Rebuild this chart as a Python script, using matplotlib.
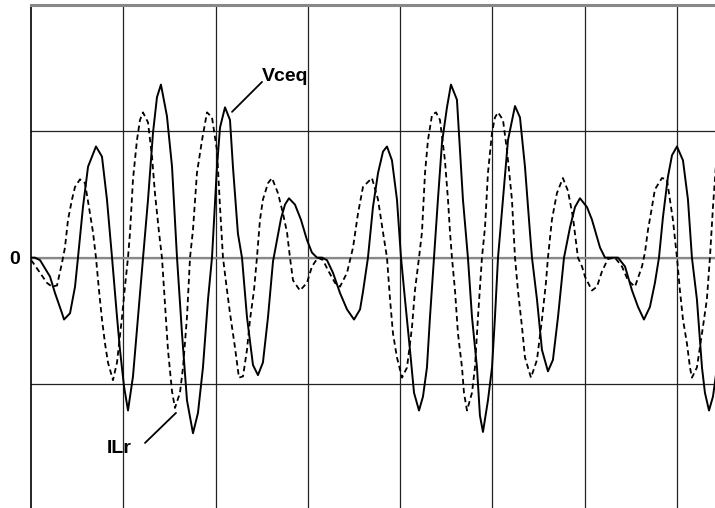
import numpy as np
import matplotlib.pyplot as plt

# time in grid divisions, amplitude in grid divisions
t_vce = [0.000, 0.043, 0.098, 0.206, 0.260, 0.336, 0.358, 0.423, 0.477, 0.509,
         0.563, 0.618, 0.704, 0.769, 0.823, 0.878, 0.932, 0.964, 1.008, 1.051,
         1.105, 1.159, 1.214, 1.268, 1.322, 1.365, 1.408, 1.473, 1.528, 1.582,
         1.636, 1.690, 1.755, 1.809, 1.863, 1.918, 1.961, 2.015, 2.048, 2.102,
         2.156, 2.188, 2.242, 2.286, 2.340, 2.405, 2.459, 2.513, 2.568, 2.622,
         2.665, 2.709, 2.752, 2.795, 2.860, 2.925, 2.990, 3.044, 3.099, 3.153,
         3.207, 3.272, 3.348, 3.424, 3.500, 3.565, 3.597, 3.651, 3.705, 3.760,
         3.814, 3.857, 3.911, 3.965, 4.009, 4.052, 4.106, 4.150, 4.204, 4.247,
         4.290, 4.323, 4.366, 4.409, 4.453, 4.507, 4.550, 4.615, 4.648, 4.680,
         4.734, 4.778, 4.832, 4.864, 4.897, 4.951, 4.995, 5.027, 5.060, 5.114,
         5.168, 5.244, 5.298, 5.352, 5.406, 5.428, 5.482, 5.536, 5.601, 5.655,
         5.710, 5.775, 5.840, 5.894, 5.948, 6.024, 6.078, 6.165, 6.219, 6.295,
         6.360, 6.436, 6.512, 6.577, 6.641, 6.706, 6.760, 6.804, 6.847, 6.901,
         6.945, 6.999, 7.064, 7.118, 7.161, 7.215, 7.270, 7.302, 7.346, 7.389,
         7.421]
vceq = [0.00, 0.00, -0.02, -0.15, -0.28, -0.44, -0.49, -0.44, -0.23, 0.00,
        0.40, 0.72, 0.88, 0.80, 0.46, 0.00, -0.47, -0.73, -1.02, -1.21,
        -0.94, -0.47, 0.00, 0.46, 0.99, 1.27, 1.37, 1.12, 0.72, 0.00,
        -0.60, -1.13, -1.39, -1.23, -0.87, -0.33, 0.00, 0.72, 1.03, 1.19,
        1.09, 0.72, 0.19, 0.00, -0.47, -0.85, -0.93, -0.83, -0.47, -0.03,
        0.14, 0.31, 0.42, 0.47, 0.42, 0.30, 0.14, 0.04, 0.00, 0.00,
        -0.02, -0.12, -0.28, -0.41, -0.49, -0.41, -0.27, 0.00, 0.40, 0.67,
        0.84, 0.88, 0.77, 0.46, 0.00, -0.33, -0.73, -1.07, -1.21, -1.10,
        -0.87, -0.47, 0.00, 0.46, 0.91, 1.19, 1.37, 1.25, 0.85, 0.46,
        0.00, -0.47, -0.87, -1.25, -1.38, -1.13, -0.87, -0.47, 0.00, 0.46,
        0.93, 1.20, 1.11, 0.72, 0.20, 0.00, -0.33, -0.73, -0.90, -0.81,
        -0.47, 0.00, 0.24, 0.40, 0.47, 0.40, 0.30, 0.08, 0.00, 0.00,
        0.00, -0.07, -0.26, -0.39, -0.49, -0.39, -0.20, 0.00, 0.32, 0.64,
        0.81, 0.88, 0.77, 0.46, 0.00, -0.33, -0.87, -1.07, -1.21, -1.10,
        -0.93]

t_ilr = [0.000, 0.022, 0.098, 0.173, 0.228, 0.282, 0.336, 0.368, 0.401, 0.444,
         0.477, 0.531, 0.585, 0.628, 0.672, 0.704, 0.737, 0.769, 0.802, 0.834,
         0.888, 0.932, 0.986, 1.018, 1.051, 1.073, 1.105, 1.148, 1.181, 1.213,
         1.268, 1.311, 1.343, 1.387, 1.419, 1.452, 1.484, 1.528, 1.560, 1.614,
         1.647, 1.690, 1.723, 1.755, 1.798, 1.853, 1.907, 1.961, 2.015, 2.048,
         2.080, 2.124, 2.156, 2.210, 2.253, 2.297, 2.340, 2.373, 2.416, 2.448,
         2.481, 2.513, 2.568, 2.611, 2.676, 2.730, 2.774, 2.806, 2.839, 2.914,
         2.990, 3.044, 3.109, 3.164, 3.218, 3.294, 3.348, 3.424, 3.489, 3.543,
         3.597, 3.694, 3.760, 3.814, 3.857, 3.890, 3.922, 3.965, 4.020, 4.074,
         4.128, 4.160, 4.204, 4.236, 4.269, 4.301, 4.345, 4.388, 4.431, 4.485,
         4.518, 4.540, 4.561, 4.594, 4.626, 4.670, 4.691, 4.724, 4.778, 4.810,
         4.843, 4.886, 4.919, 4.951, 4.995, 5.027, 5.060, 5.114, 5.157, 5.211,
         5.244, 5.276, 5.320, 5.352, 5.417, 5.482, 5.536, 5.579, 5.601, 5.644,
         5.698, 5.763, 5.817, 5.872, 5.926, 5.970, 6.002, 6.078, 6.132, 6.186,
         6.251, 6.327, 6.403, 6.468, 6.544, 6.620, 6.652, 6.685, 6.728, 6.760,
         6.836, 6.890, 6.923, 6.955, 6.999, 7.031, 7.064, 7.107, 7.140, 7.161,
         7.215, 7.248, 7.280, 7.323, 7.356, 7.389, 7.421]
ilr = [-0.02, -0.04, -0.12, -0.20, -0.23, -0.22, -0.04, 0.08, 0.30, 0.46,
       0.56, 0.62, 0.59, 0.40, 0.20, 0.00, -0.26, -0.49, -0.68, -0.83,
       -0.97, -0.83, -0.47, -0.23, 0.00, 0.20, 0.62, 0.93, 1.09, 1.15,
       1.07, 0.80, 0.51, 0.20, 0.00, -0.37, -0.73, -1.06, -1.19, -1.07,
       -0.87, -0.47, 0.00, 0.22, 0.67, 0.93, 1.15, 1.11, 0.85, 0.40,
       0.00, -0.26, -0.44, -0.71, -0.95, -0.94, -0.73, -0.49, -0.26, 0.00,
       0.30, 0.46, 0.59, 0.63, 0.51, 0.35, 0.20, 0.00, -0.18, -0.26,
       -0.20, -0.07, 0.00, -0.02, -0.10, -0.20, -0.23, -0.12, 0.08, 0.35,
       0.56, 0.63, 0.46, 0.20, 0.00, -0.33, -0.60, -0.79, -0.95, -0.87,
       -0.55, -0.26, 0.00, 0.20, 0.67, 0.93, 1.13, 1.15, 1.09, 0.77,
       0.46, 0.20, 0.00, -0.26, -0.60, -0.87, -1.07, -1.21, -1.07, -0.87,
       -0.47, 0.00, 0.24, 0.67, 0.99, 1.11, 1.15, 1.09, 0.85, 0.46,
       0.00, -0.26, -0.55, -0.79, -0.95, -0.81, -0.49, -0.20, 0.00, 0.30,
       0.51, 0.63, 0.53, 0.32, 0.00, -0.07, -0.15, -0.26, -0.23, -0.11,
       -0.01, 0.00, -0.07, -0.18, -0.23, -0.07, 0.04, 0.22, 0.40, 0.54,
       0.63, 0.62, 0.46, 0.30, 0.00, -0.26, -0.49, -0.68, -0.87, -0.95,
       -0.87, -0.71, -0.55, -0.33, 0.00, 0.40, 0.73]

plt.rcParams['font.family'] = ['Liberation Sans', 'DejaVu Sans']

fig = plt.figure(figsize=(7.15, 5.08), dpi=100)
ax = fig.add_axes([31 / 715, 0, 1 - 31 / 715, 503 / 508])

ax.plot(t_ilr, ilr, color='black', lw=1.3, ls=(0, (3, 2)))
ax.plot(t_vce, vceq, color='black', lw=1.4, solid_joinstyle='round')

ax.set_xlim(0, 7.411)
ax.set_ylim(-1.982, 2.0)
ax.set_xticks(np.arange(1, 8))
ax.set_yticks([-1, 0, 1], ['', '0', ''])
ax.tick_params(length=0, labelbottom=False, pad=8)
for lab in ax.get_yticklabels():
    lab.set_fontweight('bold')
    lab.set_fontsize(14)
ax.grid(True, color='#222222', lw=0.9)
ax.axhline(0, color='#888888', lw=1.6, zorder=1.5)
ax.set_axisbelow(True)

for side in ['right', 'bottom']:
    ax.spines[side].set_visible(False)
ax.spines['top'].set_color('#888888')
ax.spines['top'].set_linewidth(2.2)
ax.spines['left'].set_color('black')
ax.spines['left'].set_linewidth(1.2)

# labels with leader lines
ax.text(2.505, 1.435, 'Vceq', fontsize=14, fontweight='bold', ha='left', va='center')
ax.annotate('', xy=(2.178, 1.154), xytext=(2.503, 1.391),
            arrowprops=dict(arrowstyle='-', color='black', lw=1.3, shrinkA=0, shrinkB=0))
ax.text(0.953, -1.511, 'ILr', fontsize=14, fontweight='bold', ha='center', va='center')
ax.annotate('', xy=(1.571, -1.229), xytext=(1.235, -1.467),
            arrowprops=dict(arrowstyle='-', color='black', lw=1.3, shrinkA=0, shrinkB=0))

fig.savefig('out.png', dpi=100)
